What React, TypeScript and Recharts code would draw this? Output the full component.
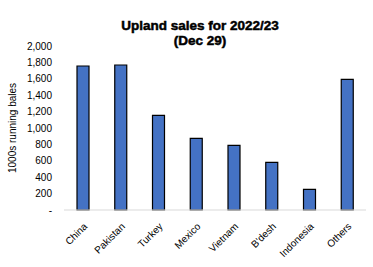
import React from 'react';
import { BarChart, Bar, XAxis, YAxis, CartesianGrid } from 'recharts';

const categories = ['China', 'Pakistan', 'Turkey', 'Mexico', 'Vietnam', "B'desh", 'Indonesia', 'Others'];
const sales = [1756, 1768, 1155, 874, 789, 581, 252, 1594];
const yTicks = [0, 200, 400, 600, 800, 1000, 1200, 1400, 1600, 1800, 2000];

const data = categories.map((c, i) => ({ name: c, value: sales[i] }));

const font = "'Liberation Sans', Arial, sans-serif";

export default function App() {
  return (
    <div style={{ position: 'absolute', left: 0, top: 0, width: 373, height: 267, background: '#fff' }}>
      <BarChart
        width={373}
        height={267}
        data={data}
        margin={{ top: 46, right: 7, bottom: 0, left: 0 }}
        barSize={12}
      >
        <text x={200} y={29.5} textAnchor="middle" style={{ fontFamily: font, fontWeight: 700, fontSize: 13.5, fill: '#000', stroke: '#000', strokeWidth: 0.5 }}>
          Upland sales for 2022/23
        </text>
        <text x={200} y={45} textAnchor="middle" style={{ fontFamily: font, fontWeight: 700, fontSize: 13.5, fill: '#000', stroke: '#000', strokeWidth: 0.5 }}>
          (Dec 29)
        </text>
        <CartesianGrid vertical={false} horizontal={false} />
        <XAxis
          dataKey="name"
          height={57}
          interval={0}
          tickLine={false}
          axisLine={{ stroke: '#d9d9d9' }}
          angle={-45}
          textAnchor="end"
          tick={{ fontFamily: font, fontSize: 10, fill: '#000' }}
          tickMargin={6}
        />
        <YAxis
          width={64}
          domain={[0, 2000]}
          ticks={yTicks}
          interval={0}
          axisLine={false}
          tickLine={false}
          tickMargin={6}
          tick={{ fontFamily: font, fontSize: 10, fill: '#000' }}
          tickFormatter={(v: number) => (v === 0 ? '-' : v.toLocaleString('en-US'))}
          label={{
            value: '1000s running bales',
            angle: -90,
            position: 'insideLeft',
            offset: 12,
            style: { fontFamily: font, fontSize: 10, fill: '#000', textAnchor: 'middle' },
          }}
        />
        <Bar dataKey="value" fill="#4472C4" stroke="#000" strokeWidth={1.2} isAnimationActive={false} />
      </BarChart>
    </div>
  );
}
